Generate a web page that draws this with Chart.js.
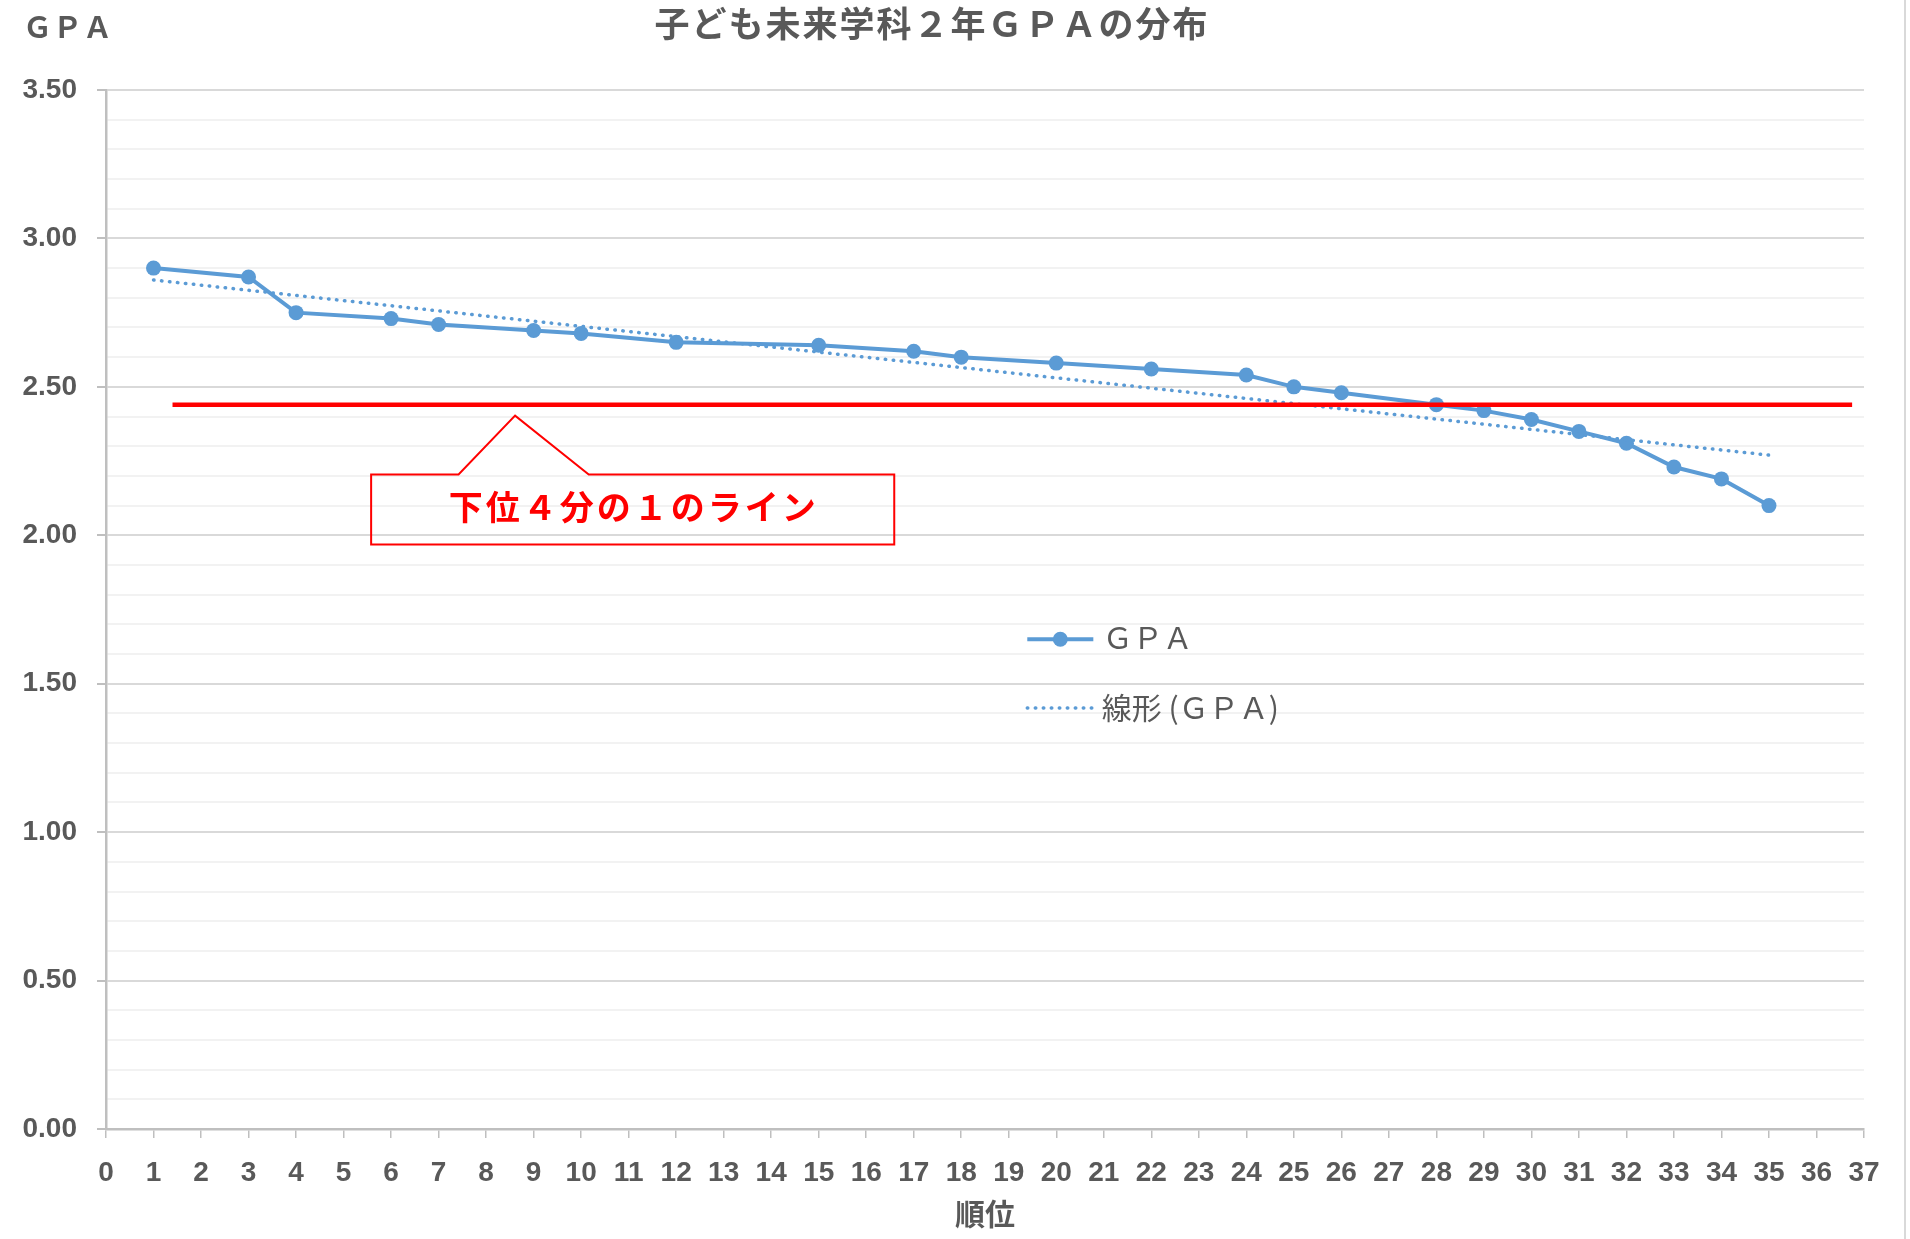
<!DOCTYPE html>
<html lang="ja">
<head>
  <meta charset="UTF-8">
  <title>子ども未来学科２年ＧＰＡの分布</title>
  <script src="https://cdn.jsdelivr.net/npm/chart.js@4"></script>
  <style>
    html, body { margin: 0; padding: 0; background: #fff; }
    #wrap { width: 1910px; height: 1239px; }
  </style>
</head>
<body>
  <div id="wrap"><canvas id="gpaChart" width="1910" height="1239"></canvas></div>

  <script>
    // 順位とＧＰＡ（同順位は同じ点）
    const ranks = [1, 3, 4, 6, 7, 9, 10, 12, 15, 17, 18, 20, 22, 24, 25, 26, 28, 29, 30, 31, 32, 33, 34, 35];
    const gpa = [2.90, 2.87, 2.75, 2.73, 2.71, 2.69, 2.68, 2.65, 2.64, 2.62, 2.60, 2.58,
                 2.56, 2.54, 2.50, 2.48, 2.44, 2.42, 2.39, 2.35, 2.31, 2.23, 2.19, 2.10];

    // 近似直線（線形）の両端
    const trendRanks = [1, 35];
    const trendGpa = [2.86, 2.27];

    // 下位４分の１のライン
    const cutoffRanks = [1.4, 36.75];
    const cutoffGpa = 2.44;

    // 軸の範囲と目盛
    const rankRange = [0, 37];
    const gpaRange = [0, 3.5];
    const gpaMajorStep = 0.5;

    const BLUE = '#5b9bd5';
    const GRAY = '#595959';
    const JP = '"Noto Sans CJK JP", "Noto Sans", sans-serif';
    const NUM = '"Liberation Sans", Arial, sans-serif';

    const isMajor = v => Math.abs(v / gpaMajorStep - Math.round(v / gpaMajorStep)) < 1e-6;

    // タイトル・吹き出し・凡例など、エクセル風の飾り
    const decor = {
      id: 'decor',
      afterDraw(chart) {
        const { ctx, scales: { x, y } } = chart;
        const X = v => x.getPixelForValue(v);
        const Y = v => y.getPixelForValue(v);
        ctx.save();

        // グラフタイトル
        ctx.fillStyle = GRAY;
        ctx.textAlign = 'center';
        ctx.textBaseline = 'middle';
        ctx.font = `bold 35px ${JP}`;
        ctx.letterSpacing = '2px';
        ctx.fillText('子ども未来学科２年ＧＰＡの分布', 932, 24);

        // 縦軸ラベル
        ctx.textAlign = 'left';
        ctx.font = `bold 29px ${JP}`;
        ctx.letterSpacing = '1px';
        ctx.fillText('ＧＰＡ', 23, 27);

        // 吹き出し
        const c = { x0: 5.58, x1: 16.59, top: 2.205, bot: 1.969, p0: 7.42, p1: 10.16, px: 8.61, py: 2.403 };
        ctx.strokeStyle = '#ff0000';
        ctx.lineWidth = 2;
        ctx.lineJoin = 'miter';
        ctx.beginPath();
        ctx.moveTo(X(c.x0), Y(c.top));
        ctx.lineTo(X(c.p0), Y(c.top));
        ctx.lineTo(X(c.px), Y(c.py));
        ctx.lineTo(X(c.p1), Y(c.top));
        ctx.lineTo(X(c.x1), Y(c.top));
        ctx.lineTo(X(c.x1), Y(c.bot));
        ctx.lineTo(X(c.x0), Y(c.bot));
        ctx.closePath();
        ctx.stroke();

        ctx.fillStyle = '#ff0000';
        ctx.textAlign = 'center';
        ctx.font = `bold 34px ${JP}`;
        ctx.letterSpacing = '3px';
        ctx.fillText('下位４分の１のライン', (X(c.x0) + X(c.x1)) / 2 + 1, (Y(c.top) + Y(c.bot)) / 2 - 2);

        // 凡例（グラフ内）
        const gpaSet = chart.data.datasets[2];
        const trendSet = chart.data.datasets[1];
        const lx0 = X(19.39), lx1 = X(20.78), tx = X(20.98);
        const row1 = Y(1.650), row2 = Y(1.418);

        ctx.strokeStyle = gpaSet.borderColor;
        ctx.lineWidth = gpaSet.borderWidth;
        ctx.lineCap = 'butt';
        ctx.beginPath();
        ctx.moveTo(lx0, row1);
        ctx.lineTo(lx1, row1);
        ctx.stroke();
        ctx.fillStyle = gpaSet.backgroundColor;
        ctx.beginPath();
        ctx.arc((lx0 + lx1) / 2, row1, gpaSet.pointRadius, 0, Math.PI * 2);
        ctx.fill();

        ctx.strokeStyle = trendSet.borderColor;
        ctx.lineWidth = trendSet.borderWidth;
        ctx.lineCap = 'round';
        ctx.setLineDash(trendSet.borderDash);
        ctx.beginPath();
        ctx.moveTo(lx0, row2);
        ctx.lineTo(lx1, row2);
        ctx.stroke();
        ctx.setLineDash([]);

        ctx.fillStyle = GRAY;
        ctx.textAlign = 'left';
        ctx.font = `30px ${JP}`;
        ctx.letterSpacing = '0px';
        ctx.fillText(gpaSet.label, tx, row1 - 2);
        ctx.fillText(trendSet.label, tx - 1, row2);

        // 外枠の右端
        ctx.strokeStyle = '#d9d9d9';
        ctx.lineWidth = 2;
        ctx.beginPath();
        ctx.moveTo(1905, 0);
        ctx.lineTo(1905, chart.height);
        ctx.stroke();

        ctx.restore();
      }
    };

    const ctx = document.getElementById('gpaChart').getContext('2d');
    const gpaChart = new Chart(ctx, {
      type: 'scatter',
      data: {
        datasets: [
          {
            label: '下位４分の１のライン',
            data: cutoffRanks.map(r => ({ x: r, y: cutoffGpa })),
            showLine: true,
            borderColor: '#ff0000',
            borderWidth: 4.5,
            pointRadius: 0,
            order: 0
          },
          {
            label: '線形 (ＧＰＡ)',
            data: trendRanks.map((r, i) => ({ x: r, y: trendGpa[i] })),
            showLine: true,
            borderColor: BLUE,
            borderWidth: 3.5,
            borderDash: [0.5, 7.5],
            borderCapStyle: 'round',
            pointRadius: 0,
            order: 1
          },
          {
            label: 'ＧＰＡ',
            data: ranks.map((r, i) => ({ x: r, y: gpa[i] })),
            showLine: true,
            borderColor: BLUE,
            backgroundColor: BLUE,
            borderWidth: 4,
            pointRadius: 7.5,
            pointBorderWidth: 0,
            pointBackgroundColor: BLUE,
            order: 2
          }
        ]
      },
      options: {
        responsive: false,
        devicePixelRatio: 1,
        animation: false,
        layout: { padding: { top: 90, right: 46, bottom: 0, left: 0 } },
        plugins: {
          legend: { display: false },
          tooltip: { enabled: false },
          title: { display: false }
        },
        scales: {
          x: {
            type: 'linear',
            min: rankRange[0],
            max: rankRange[1],
            ticks: {
              stepSize: 1,
              autoSkip: false,
              maxRotation: 0,
              padding: 18,
              color: GRAY,
              font: { family: NUM, size: 28, weight: 'bold' }
            },
            grid: { drawOnChartArea: false, drawTicks: true, tickLength: 9, color: '#bfbfbf', lineWidth: 1.5 },
            border: { color: '#bfbfbf', width: 2.5 },
            title: {
              display: true,
              text: '順位',
              color: GRAY,
              font: { family: JP, size: 30, weight: 'bold' },
              padding: { top: 0, bottom: 7 }
            },
            afterFit(scale) { scale.height = 110; }
          },
          y: {
            min: gpaRange[0],
            max: gpaRange[1],
            ticks: {
              stepSize: 0.1,
              autoSkip: false,
              padding: 20,
              color: GRAY,
              font: { family: NUM, size: 28, weight: 'bold' },
              callback: v => isMajor(v) ? v.toFixed(2) : ''
            },
            grid: {
              color: c => isMajor(c.tick.value) ? '#d9d9d9' : '#f2f2f2',
              lineWidth: 2,
              tickLength: 9,
              tickColor: c => isMajor(c.tick.value) ? '#bfbfbf' : 'rgba(0,0,0,0)'
            },
            border: { color: '#bfbfbf', width: 2.5 },
            afterFit(scale) { scale.width = 106; }
          }
        }
      },
      plugins: [decor]
    });
  </script>
</body>
</html>
